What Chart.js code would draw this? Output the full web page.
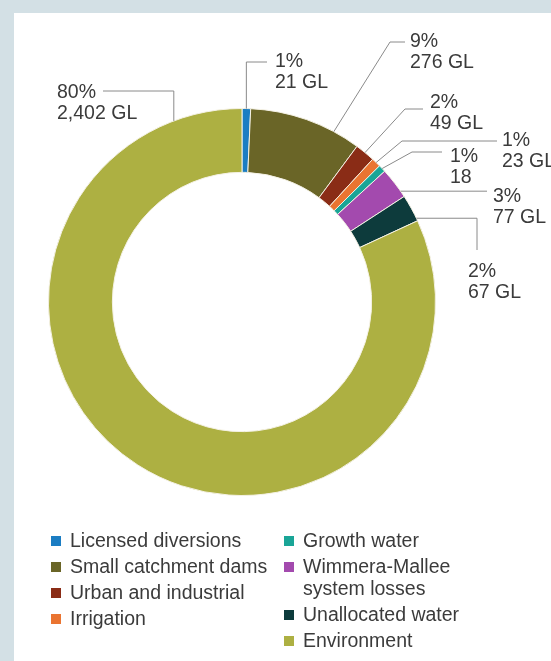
<!DOCTYPE html>
<html>
<head>
<meta charset="utf-8">
<script src="https://cdn.jsdelivr.net/npm/chart.js@4"></script>
<style>
  html,body{margin:0;padding:0;background:#d3e0e5;}
  #wrap{position:relative;width:551px;height:661px;overflow:hidden;}
  #panel{position:absolute;left:14px;top:13px;right:0;bottom:0;background:#fff;}
  canvas{position:absolute;left:0;top:0;}
</style>
</head>
<body>
<div id="wrap">
  <div id="panel"></div>
  <canvas id="c" width="551" height="661"></canvas>
</div>
<script>
// ---- data ----
const categories = ["Licensed diversions","Small catchment dams","Urban and industrial","Irrigation","Growth water","Wimmera-Mallee system losses","Unallocated water","Environment"];
const volumesGL = [21, 276, 49, 23, 18, 77, 67, 2402];
const percentLabels = ["1%","9%","2%","1%","1%","3%","2%","80%"];
const volumeLabels = ["21 GL","276 GL","49 GL","23 GL","18","77 GL","67 GL","2,402 GL"];
const colours = ["#1b7dc3","#6a6527","#8a2c16","#ea7431","#1aa597","#a34aae","#0d3b3c","#adb042"];

// ---- label placement (layout only) ----
const leaderLayout = [
  {frac:0.5,  path:[[null,62],[267,62]],   tx:275, ty:67},
  {frac:0.76, path:[[390,42],[405,42]],    tx:410, ty:47},
  {frac:0.5,  path:[[405,109],[423,109]],  tx:430, ty:108},
  {frac:0.5,  path:[[402,141],[497,141]],  tx:502, ty:146},
  {frac:0.5,  path:[[412,152],[442,152]],  tx:450, ty:162},
  {frac:0.8,  path:[[487,null]],           tx:493, ty:202},
  {frac:0.9,  path:[[477,null],[null,250]],tx:468, ty:277},
  {frac:0.93, path:[[null,91],[103,91]],   tx:57,  ty:98}
];
const legendLayout = {colX:[51,284], textGap:19, firstBase:547, step:26, wrapStep:22, perCol:4, wrapWidth:[400,170]};

const FONT = '19.5px "Liberation Sans", Arial, sans-serif';
const TEXT = '#3b3b3b';

const leaders = {
  id:'leaders',
  afterDatasetsDraw(chart){
    const ctx = chart.ctx;
    const meta = chart.getDatasetMeta(0);
    ctx.save();
    ctx.strokeStyle = '#8a8a8a';
    ctx.lineWidth = 1;
    ctx.font = FONT;
    ctx.fillStyle = TEXT;
    ctx.textBaseline = 'alphabetic';
    leaderLayout.forEach((L,i)=>{
      const arc = meta.data[i];
      const p = arc.getProps(['x','y','startAngle','endAngle','outerRadius'], true);
      const a = p.startAngle + (p.endAngle - p.startAngle) * L.frac;
      let px = p.x + Math.cos(a) * p.outerRadius;
      let py = p.y + Math.sin(a) * p.outerRadius;
      ctx.beginPath();
      ctx.moveTo(px, py);
      L.path.forEach(pt=>{
        px = pt[0] === null ? px : pt[0];
        py = pt[1] === null ? py : pt[1];
        ctx.lineTo(px, py);
      });
      ctx.stroke();
      ctx.fillText(percentLabels[i], L.tx, L.ty);
      ctx.fillText(volumeLabels[i], L.tx, L.ty + 21);
    });
    ctx.restore();
  }
};

const legendPlugin = {
  id:'customLegend',
  afterDraw(chart){
    const ctx = chart.ctx;
    const ds = chart.data.datasets[0];
    const lay = legendLayout;
    ctx.save();
    ctx.font = FONT;
    ctx.textBaseline = 'alphabetic';
    let col = 0, base = lay.firstBase;
    chart.data.labels.forEach((lab,i)=>{
      if (i === lay.perCol){ col = 1; base = lay.firstBase; }
      const sx = lay.colX[col];
      ctx.fillStyle = ds.backgroundColor[i];
      ctx.fillRect(sx, base - 11, 10, 10);
      ctx.fillStyle = TEXT;
      const words = lab.split(' ');
      const lines = [];
      let cur = '';
      words.forEach(w=>{
        const t = cur ? cur + ' ' + w : w;
        if (ctx.measureText(t).width > lay.wrapWidth[col] && cur){ lines.push(cur); cur = w; }
        else cur = t;
      });
      lines.push(cur);
      lines.forEach((ln,k)=>{
        ctx.fillText(ln, sx + lay.textGap, base + k*lay.wrapStep);
      });
      base += (lines.length-1)*lay.wrapStep + lay.step;
    });
    ctx.restore();
  }
};

new Chart(document.getElementById('c'), {
  type:'doughnut',
  data:{
    labels: categories,
    datasets:[{
      data: volumesGL,
      backgroundColor: colours,
      borderColor:'#f4f1e4',
      borderWidth:1
    }]
  },
  options:{
    responsive:false,
    animation:false,
    cutout:'67%',
    layout:{padding:{left:48,top:108,right:115,bottom:165}},
    plugins:{legend:{display:false}, tooltip:{enabled:false}}
  },
  plugins:[leaders, legendPlugin]
});
</script>
</body>
</html>
